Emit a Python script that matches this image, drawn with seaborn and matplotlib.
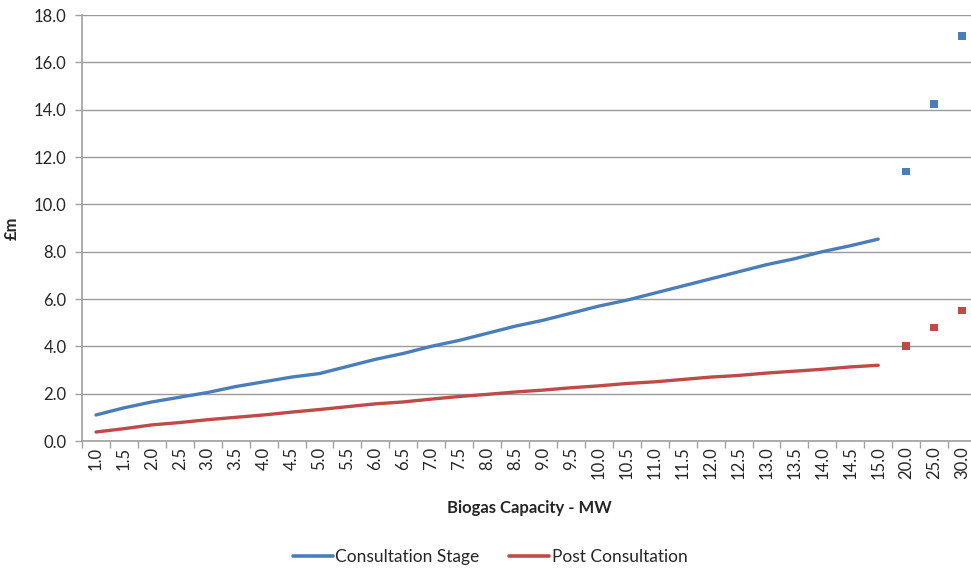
import matplotlib
matplotlib.use("Agg")
import matplotlib.pyplot as plt
import seaborn as sns
import pandas as pd
from matplotlib.ticker import FixedLocator
from matplotlib.lines import Line2D

categories = ["1.0", "1.5", "2.0", "2.5", "3.0", "3.5", "4.0", "4.5", "5.0", "5.5",
              "6.0", "6.5", "7.0", "7.5", "8.0", "8.5", "9.0", "9.5", "10.0", "10.5",
              "11.0", "11.5", "12.0", "12.5", "13.0", "13.5", "14.0", "14.5", "15.0"]
extra_categories = ["20.0", "25.0", "30.0"]

consultation = [1.10, 1.40, 1.65, 1.85, 2.05, 2.30, 2.50, 2.70, 2.85, 3.15,
                3.45, 3.70, 4.00, 4.25, 4.55, 4.85, 5.10, 5.40, 5.70, 5.95,
                6.25, 6.55, 6.85, 7.15, 7.45, 7.70, 8.00, 8.25, 8.53]
post = [0.38, 0.52, 0.68, 0.78, 0.90, 1.00, 1.10, 1.22, 1.33, 1.45,
        1.57, 1.65, 1.77, 1.88, 1.97, 2.07, 2.15, 2.25, 2.33, 2.43,
        2.50, 2.60, 2.70, 2.77, 2.87, 2.95, 3.03, 3.13, 3.20]
consultation_extra = [11.39, 14.25, 17.10]
post_extra = [4.01, 4.79, 5.52]

yticks = [0, 2, 4, 6, 8, 10, 12, 14, 16, 18]

BLUE = "#4A7EBB"
RED = "#BE4B48"

sns.set_theme(style="white")
plt.rcParams["font.family"] = ["Lato", "DejaVu Sans"]

fig = plt.figure(figsize=(9.71, 5.71), dpi=100)
ax = fig.add_axes([82 / 971, 1 - 441 / 571, (976 - 82) / 971, (441 - 15) / 571])

all_cats = categories + extra_categories
pos = {c: i for i, c in enumerate(all_cats)}

df_line = pd.DataFrame({
    "x": [pos[c] for c in categories] * 2,
    "y": consultation + post,
    "series": ["Consultation Stage"] * len(categories) + ["Post Consultation"] * len(categories),
})
df_pts = pd.DataFrame({
    "x": [pos[c] for c in extra_categories] * 2,
    "y": consultation_extra + post_extra,
    "series": ["Consultation Stage"] * 3 + ["Post Consultation"] * 3,
})
palette = {"Consultation Stage": BLUE, "Post Consultation": RED}

sns.lineplot(data=df_line, x="x", y="y", hue="series", palette=palette,
             linewidth=2.4, ax=ax, legend=False)
sns.scatterplot(data=df_pts, x="x", y="y", hue="series", palette=palette,
                marker="s", s=30, linewidth=0, ax=ax, legend=False, zorder=3)

ax.set_xlim(-0.5, len(all_cats) - 0.5)
ax.set_ylim(0, 18)
ax.set_yticks(yticks)
ax.set_yticklabels([f"{v:.1f}" for v in yticks], fontsize=12)
ax.set_xticks(range(len(all_cats)))
ax.set_xticklabels(all_cats, rotation=90, fontsize=12)
ax.xaxis.set_minor_locator(FixedLocator([i - 0.5 for i in range(len(all_cats) + 1)]))
ax.tick_params(axis="x", which="major", length=0, pad=4)
ax.tick_params(axis="x", which="minor", length=5, color="#A0A0A0", width=1, bottom=True)
ax.tick_params(axis="y", which="major", length=5, color="#A0A0A0", width=1, left=True, pad=6)

ax.grid(axis="y", color="#9A9A9A", linewidth=1)
ax.set_axisbelow(True)
for side in ["top", "right"]:
    ax.spines[side].set_visible(False)
for side in ["left", "bottom"]:
    ax.spines[side].set_color("#A0A0A0")
    ax.spines[side].set_linewidth(1.2)

ax.set_xlabel("Biogas Capacity - MW", fontsize=12, fontweight="bold", labelpad=15)
ax.set_ylabel("£m", fontsize=12, fontweight="bold", labelpad=10)

handles = [Line2D([0], [0], color=BLUE, linewidth=2.6),
           Line2D([0], [0], color=RED, linewidth=2.6)]
fig.legend(handles, ["Consultation Stage", "Post Consultation"], loc="center",
           bbox_to_anchor=(490 / 971, 1 - 557 / 571), ncol=2, frameon=False,
           fontsize=12.5, handlelength=2.3, handletextpad=0.15, columnspacing=1.7)

fig.savefig("out.png", dpi=100)
